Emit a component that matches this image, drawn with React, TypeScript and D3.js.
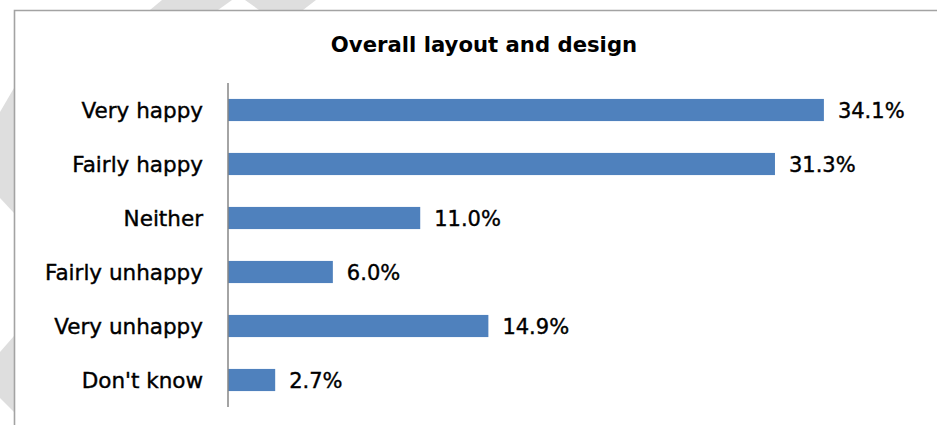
import React from "react";
import * as d3 from "d3";

const categories = ["Very happy", "Fairly happy", "Neither", "Fairly unhappy", "Very unhappy", "Don't know"];
const values = [34.1, 31.3, 11.0, 6.0, 14.9, 2.7];
const title = "Overall layout and design";

const W = 937;
const H = 425;

export default function App() {
  const x = d3.scaleLinear().domain([0, 40]).range([228, 927]);
  const y = d3.scaleBand<string>().domain(categories).range([83, 407]).paddingInner(0.59).paddingOuter(0.295);
  const font = "'DejaVu Sans', Verdana, sans-serif";
  const fmt = (v: number) => d3.format(".1f")(v) + "%";

  return (
    <svg width={W} height={H} style={{ position: "fixed", left: 0, top: 0, background: "#fff" }}>
      <rect x={0} y={0} width={W} height={H} fill="#fff" />
      {/* watermark fragments outside the frame */}
      <g fill="#dedede">
        <polygon points="150,10 162,0 232,0 218,10" />
        <polygon points="259,10 245,0 316,0 303,10" />
        <polygon points="0,112 14,88 14,213 0,198" />
        <polygon points="0,352 14,336 14,412 0,398" />
      </g>
      {/* frame */}
      <path d="M14.5,425 L14.5,10.5 L937,10.5" fill="none" stroke="#a3a3a3" strokeWidth={1.6} />
      <text x={484} y={52} textAnchor="middle" fontFamily={font} fontWeight="bold" fontSize={21.2} fill="#000">
        {title}
      </text>
      {categories.map((c, i) => (
        <g key={c}>
          <rect x={x(0)} y={y(c)!} width={x(values[i]) - x(0)} height={y.bandwidth()} fill="#4F81BD" />
          <text
            x={203}
            y={y(c)! + y.bandwidth() / 2}
            dy="0.36em"
            textAnchor="end"
            fontFamily={font}
            fontSize={21.5}
            fill="#000"
            stroke="#000"
            strokeWidth={0.4}
          >
            {c}
          </text>
          <text
            x={x(values[i]) + 14}
            y={y(c)! + y.bandwidth() / 2}
            dy="0.36em"
            fontFamily={font}
            fontSize={21}
            fill="#000"
            stroke="#000"
            strokeWidth={0.4}
          >
            {fmt(values[i])}
          </text>
        </g>
      ))}
      <line x1={x(0)} x2={x(0)} y1={83} y2={407} stroke="#868686" strokeWidth={1.5} />
    </svg>
  );
}
